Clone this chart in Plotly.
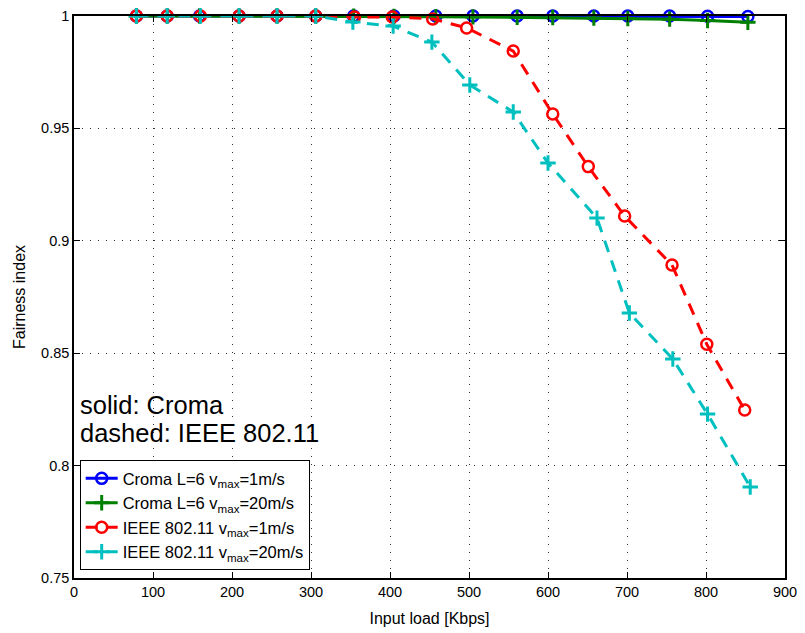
import plotly.graph_objects as go

# Data
x_croma_1 = [79, 118, 159, 209, 257, 306, 354, 405, 458, 505, 561, 606, 658, 701, 754, 802, 853]
y_croma_1 = [1.0, 1.0, 1.0, 1.0, 1.0, 1.0, 1.0, 1.0, 1.0, 1.0, 1.0, 1.0, 1.0, 1.0, 1.0, 0.9999, 0.9998]

x_croma_20 = [79, 118, 159, 209, 257, 306, 354, 405, 458, 505, 561, 606, 658, 701, 754, 802, 853]
y_croma_20 = [1.0, 1.0, 1.0, 1.0, 1.0, 1.0, 0.9999, 0.9998, 0.9997, 0.9996, 0.9994, 0.9993, 0.9991, 0.9989, 0.9986, 0.998, 0.9972]

x_ieee_1 = [79, 118, 160, 209, 257, 306, 355, 403, 454, 497, 556, 606, 651, 697, 757, 801, 849]
y_ieee_1 = [1.0, 1.0, 1.0, 1.0, 1.0, 1.0, 0.9996, 0.9996, 0.9987, 0.9947, 0.9844, 0.9564, 0.933, 0.911, 0.8892, 0.854, 0.8247]

x_ieee_20 = [79, 118, 160, 209, 257, 306, 353, 404, 453, 501, 556, 600, 662, 703, 758, 802, 856]
y_ieee_20 = [1.0, 1.0, 1.0, 1.0, 1.0, 1.0, 0.9973, 0.9955, 0.9884, 0.9693, 0.9573, 0.9346, 0.9101, 0.8679, 0.8474, 0.8229, 0.7905]

x_ticks = [0, 100, 200, 300, 400, 500, 600, 700, 800, 900]
y_ticks = [0.75, 0.8, 0.85, 0.9, 0.95, 1.0]
y_tick_labels = ["0.75", "0.8", "0.85", "0.9", "0.95", "1"]

names = [
    "Croma L=6 v<sub>max</sub>=1m/s",
    "Croma L=6 v<sub>max</sub>=20m/s",
    "IEEE 802.11 v<sub>max</sub>=1m/s",
    "IEEE 802.11 v<sub>max</sub>=20m/s",
]

FONT = "Liberation Sans, Arial, Helvetica, sans-serif"

fig = go.Figure()
fig.add_trace(go.Scatter(
    x=x_croma_1, y=y_croma_1, name=names[0], mode="lines+markers", cliponaxis=False,
    line=dict(color="#0000ff", width=3),
    marker=dict(symbol="circle-open", size=11, color="#0000ff", line=dict(width=2.5, color="#0000ff")),
))
fig.add_trace(go.Scatter(
    x=x_croma_20, y=y_croma_20, name=names[1], mode="lines+markers", cliponaxis=False,
    line=dict(color="#008000", width=3),
    marker=dict(symbol="cross-thin-open", size=11, color="#008000", line=dict(width=3, color="#008000")),
))
fig.add_trace(go.Scatter(
    x=x_ieee_1, y=y_ieee_1, name=names[2], mode="lines+markers", cliponaxis=False,
    line=dict(color="#ff0000", width=3, dash="12px,9px"),
    marker=dict(symbol="circle-open", size=11, color="#ff0000", line=dict(width=2.5, color="#ff0000")),
))
fig.add_trace(go.Scatter(
    x=x_ieee_20, y=y_ieee_20, name=names[3], mode="lines+markers", cliponaxis=False,
    line=dict(color="#00bfbf", width=3, dash="12px,9px"),
    marker=dict(symbol="cross-thin-open", size=11, color="#00bfbf", line=dict(width=3, color="#00bfbf")),
))

fig.add_annotation(x=0.006, y=0.308, xref="paper", yref="paper", xanchor="left", yanchor="middle",
                   text="solid: Croma", showarrow=False, font=dict(family=FONT, size=25.5, color="black"))
fig.add_annotation(x=0.006, y=0.258, xref="paper", yref="paper", xanchor="left", yanchor="middle",
                   text="dashed: IEEE 802.11", showarrow=False, font=dict(family=FONT, size=25.5, color="black"))

axis_common = dict(
    showline=True, linecolor="black", linewidth=1.5, mirror="ticks",
    ticks="inside", ticklen=6, tickcolor="black", tickwidth=1,
    showgrid=True, gridcolor="#333333", griddash="1px,7px", gridwidth=1,
    zeroline=False, tickfont=dict(family=FONT, size=14.5, color="black"),
)

fig.update_layout(
    width=805, height=633,
    margin=dict(l=66, r=28, t=8, b=63, autoexpand=False),
    paper_bgcolor="white", plot_bgcolor="white",
    font=dict(family=FONT, color="black"),
    xaxis=dict(range=[0, 900], tickmode="array", tickvals=x_ticks,
               title=dict(text="Input load [Kbps]", font=dict(family=FONT, size=16), standoff=14),
               **axis_common),
    yaxis=dict(range=[0.75, 1.0], tickmode="array", tickvals=y_ticks, ticktext=y_tick_labels,
               title=dict(text="Fairness index", font=dict(family=FONT, size=16), standoff=12),
               **axis_common),
    legend=dict(x=0.008, y=0.014, xanchor="left", yanchor="bottom",
                bgcolor="white", bordercolor="black", borderwidth=1,
                font=dict(family=FONT, size=16.5, color="black"),
                tracegroupgap=0, itemwidth=32),
    showlegend=True,
)

fig.write_html("out.html")
